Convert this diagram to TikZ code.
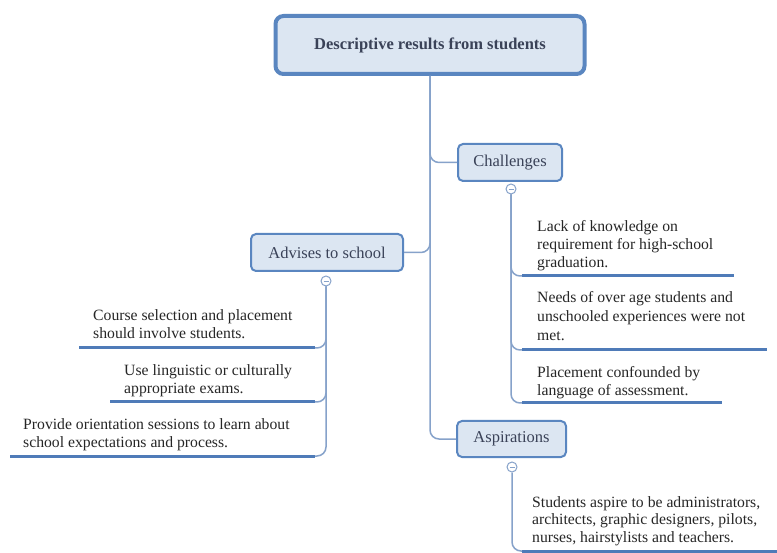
\documentclass[tikz,border=0pt]{standalone}
\usepackage{fontspec}
\setmainfont{Liberation Serif}
\usetikzlibrary{positioning}
\definecolor{boxfill}{HTML}{DCE6F2}
\definecolor{boxline}{HTML}{5A86C0}
\definecolor{linkline}{HTML}{86A2CA}
\definecolor{ulblue}{HTML}{4F7BB8}
\definecolor{txt}{HTML}{262626}
\definecolor{boxtxt}{HTML}{3A4258}

\begin{document}
\begin{tikzpicture}[x=1pt, y=-1pt,
    topic/.style={draw=boxline, fill=boxfill, line width=2pt, rounded corners=5pt, text=boxtxt, font=\fontsize{16.5}{18}\selectfont},
    roottopic/.style={topic, line width=4pt, rounded corners=8pt, font=\fontsize{16.5}{18}\selectfont\bfseries},
    knob/.style={circle, draw=linkline, fill=white, line width=1pt, minimum size=10pt, inner sep=0pt,
      path picture={\draw[linkline, line width=0.8pt] ([xshift=-2.5pt]path picture bounding box.center) -- ([xshift=2.5pt]path picture bounding box.center);}},
    link/.style={draw=linkline, line width=1.5pt, rounded corners=9pt},
    uline/.style={draw=ulblue, line width=3pt},
    item/.style={inner sep=0pt, anchor=north west, align=left, text=txt, font=\fontsize{15.7}{18}\selectfont}]
  \useasboundingbox (0,0) rectangle (777,553);

  % main topics
  \node[roottopic, minimum width=309pt, minimum height=58pt] (root) at (430,45) {Descriptive results from students};
  \node[topic, minimum width=104pt, minimum height=37pt] (chal) at (510,162.5) {Challenges};
  \node[topic, minimum width=152pt, minimum height=37pt] (adv) at (327,252.5) {Advises to school};
  \node[topic, minimum width=109pt, minimum height=36pt] (asp) at (511.5,439) {Aspirations};

  % trunk
  \draw[link] (root.south) |- (asp.west);
  \draw[link] (root.south) |- (chal.west);
  \draw[link] (adv.east) -| (root.south);

  % challenges
  \node[item] (ch1) at (537,220) {Lack of knowledge on\\requirement for high-school\\graduation.};
  \node[item, font=\fontsize{15.7}{19}\selectfont] (ch2) at (537,291) {Needs of over age students and\\unschooled experiences were not\\met.};
  \node[item] (ch3) at (537,366) {Placement confounded by\\language of assessment.};
  \coordinate (ch1a) at (522,276); \coordinate (ch1b) at (734,276);
  \coordinate (ch2a) at (522,350); \coordinate (ch2b) at (767,350);
  \coordinate (ch3a) at (522,403); \coordinate (ch3b) at (722,403);
  \node[knob] (kch) at (511,189) {};
  \draw[link] (kch.south) |- (ch1a);
  \draw[link] (kch.south) |- (ch2a);
  \draw[link] (kch.south) |- (ch3a);
  \draw[uline] (ch1a) -- (ch1b);
  \draw[uline] (ch2a) -- (ch2b);
  \draw[uline] (ch3a) -- (ch3b);

  % advises
  \node[item] (ad1) at (93,309) {Course selection and placement\\should involve students.};
  \node[item] (ad2) at (124,364) {Use linguistic or culturally\\appropriate exams.};
  \node[item] (ad3) at (23,418) {Provide orientation sessions to learn about\\school expectations and process.};
  \coordinate (ad1a) at (79,348); \coordinate (ad1b) at (315,348);
  \coordinate (ad2a) at (110,402); \coordinate (ad2b) at (315,402);
  \coordinate (ad3a) at (10,456); \coordinate (ad3b) at (315,456);
  \node[knob] (kad) at (326,281) {};
  \draw[link] (kad.south) |- (ad1b);
  \draw[link] (kad.south) |- (ad2b);
  \draw[link] (kad.south) |- (ad3b);
  \draw[uline] (ad1a) -- (ad1b);
  \draw[uline] (ad2a) -- (ad2b);
  \draw[uline] (ad3a) -- (ad3b);

  % aspirations
  \node[item, font=\fontsize{15.7}{17.5}\selectfont] (as1) at (532,496) {Students aspire to be administrators,\\architects, graphic designers, pilots,\\nurses, hairstylists and teachers.};
  \coordinate (as1a) at (522,551); \coordinate (as1b) at (777,551);
  \node[knob] (kas) at (512,467) {};
  \draw[link] (kas.south) |- (as1a);
  \draw[uline] (as1a) -- (as1b);
\end{tikzpicture}
\end{document}
